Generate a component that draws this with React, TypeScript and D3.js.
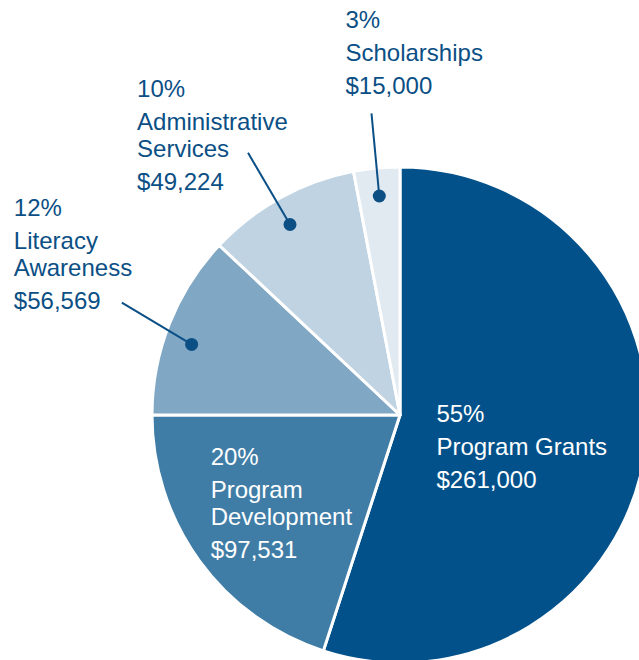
import * as d3 from "d3";

const categories = [
  "Program Grants",
  "Program Development",
  "Literacy Awareness",
  "Administrative Services",
  "Scholarships",
];
const amounts = [261000, 97531, 56569, 49224, 15000];
// the slices are drawn from the rounded shares printed on the chart
const percents = [55, 20, 12, 10, 3];
const nameLines = [
  ["Program Grants"],
  ["Program", "Development"],
  ["Literacy", "Awareness"],
  ["Administrative", "Services"],
  ["Scholarships"],
];
const sliceColors = ["#02518a", "#3f7da6", "#80a8c5", "#bfd3e2", "#e1e9f1"];

// label placement: inside labels hang off a point on the mid angle,
// outside ones off the end of a leader line (angles nudged in degrees)
const labelLayout = [
  { inside: true, r: 130, dx: -92, dy: -13, shift: 0, dotShift: 0 },
  { inside: true, r: 150, dx: -68, dy: -38, shift: 0, dotShift: 0 },
  { inside: false, r: 300, dx: -108, dy: -87, shift: 0.4, dotShift: -2.9 },
  { inside: false, r: 303, dx: -111, dy: -56, shift: -1.3, dotShift: -1.2 },
  { inside: false, r: 303, dx: -26, dy: -85, shift: 0, dotShift: 0 },
];

const textColor = "#0b4f85";
const fmt = d3.format("$,");
const deg = Math.PI / 180;

export default function App() {
  const width = 639;
  const height = 660;
  const cx = 400;
  const cy = 415;
  const radius = 248;

  const pie = d3.pie<number>().sort(null).value((d) => d);
  const arcs = pie(percents);
  const arc = d3.arc<d3.PieArcDatum<number>>().innerRadius(0).outerRadius(radius);

  const polar = (angle: number, r: number): [number, number] => [
    cx + r * Math.sin(angle),
    cy - r * Math.cos(angle),
  ];

  return (
    <svg
      width={width}
      height={height}
      style={{ position: "absolute", left: 0, top: 0, fontFamily: "'Liberation Sans', Arial, sans-serif" }}
    >
      <rect width={width} height={height} fill="#fff" />
      <g transform={`translate(${cx}, ${cy})`}>
        {arcs.map((a, i) => (
          <path key={categories[i]} d={arc(a) ?? ""} fill={sliceColors[i]} stroke="#fff" strokeWidth={3} strokeLinejoin="round" />
        ))}
      </g>
      {arcs.map((a, i) => {
        const lay = labelLayout[i];
        const mid = (a.startAngle + a.endAngle) / 2;
        const lines: { text: string; gap: number }[] = [
          { text: `${percents[i]}%`, gap: 0 },
          ...nameLines[i].map((t, k) => ({ text: t, gap: k === 0 ? 33 : 27 })),
          { text: fmt(amounts[i]), gap: 33 },
        ];
        let anchor: [number, number];
        let leader = null;
        if (lay.inside) {
          anchor = polar(mid, lay.r);
        } else {
          const dot = polar(mid + lay.dotShift * deg, 220);
          anchor = polar(mid + lay.shift * deg, lay.r);
          leader = (
            <g>
              <line x1={dot[0]} y1={dot[1]} x2={anchor[0]} y2={anchor[1]} stroke={textColor} strokeWidth={2} />
              <circle cx={dot[0]} cy={dot[1]} r={6.5} fill={textColor} />
            </g>
          );
        }
        let y = anchor[1] + lay.dy;
        return (
          <g key={`label-${categories[i]}`}>
            {leader}
            <text x={anchor[0] + lay.dx} fontSize={24} fill={lay.inside ? "#fff" : textColor}>
              {lines.map((ln, k) => {
                y += ln.gap;
                return (
                  <tspan key={k} x={anchor[0] + lay.dx} y={y}>
                    {ln.text}
                  </tspan>
                );
              })}
            </text>
          </g>
        );
      })}
    </svg>
  );
}
